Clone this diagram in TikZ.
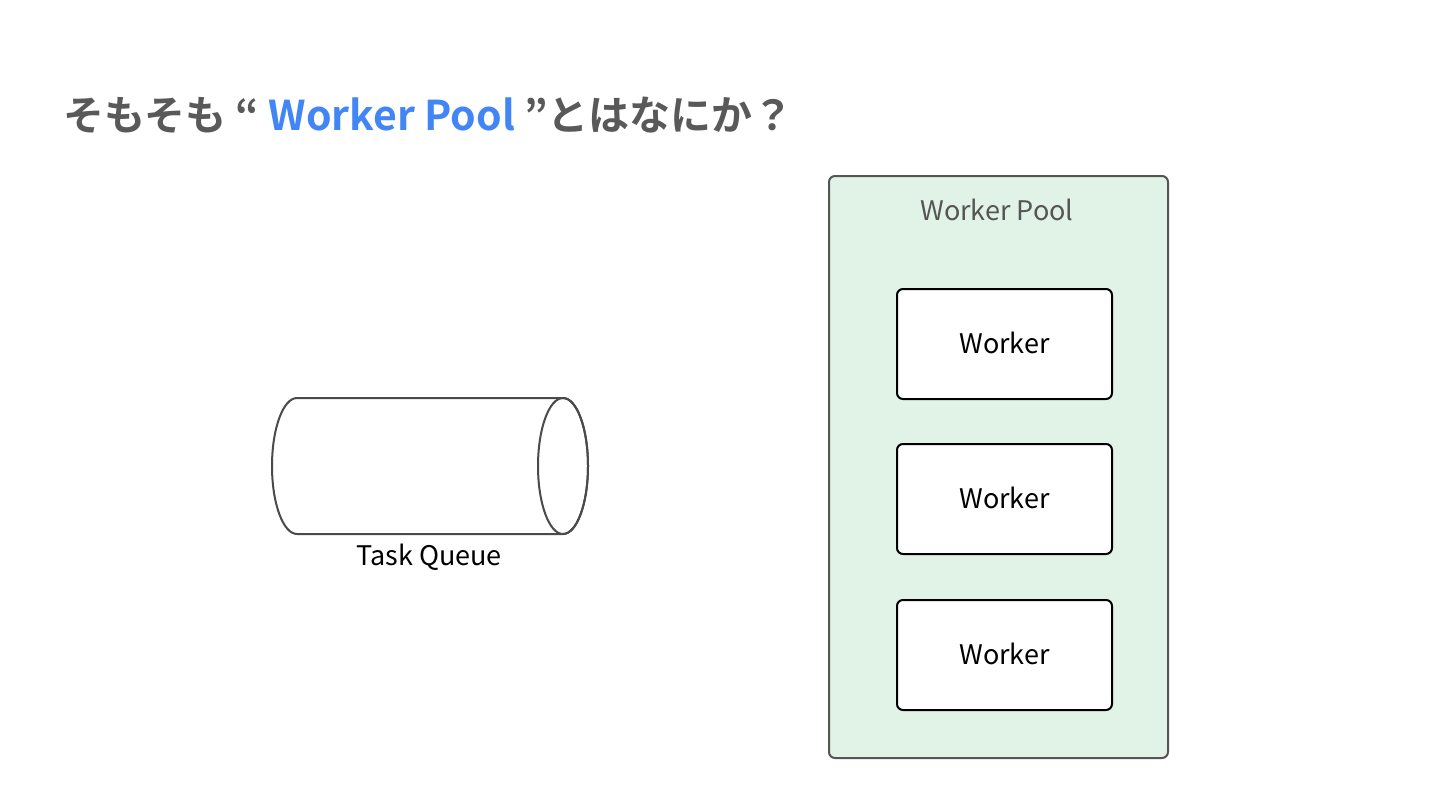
\documentclass[tikz,border=0pt]{standalone}
\usepackage{fontspec}
\setmainfont{Noto Sans CJK JP}
\newfontfamily\jpbold{Noto Sans CJK JP Bold}
\definecolor{titlegray}{HTML}{595959}
\definecolor{titleblue}{HTML}{4285F4}
\definecolor{poolfill}{HTML}{E1F3E6}
\definecolor{poolline}{HTML}{555555}
\definecolor{cylline}{HTML}{4A4A4A}
\tikzset{
  workerbox/.style={draw=black, line width=1pt, rounded corners=3pt, fill=white, minimum width=107.5pt, minimum height=55pt, font=\fontsize{13.5}{16}\selectfont},
  poolbox/.style={draw=poolline, line width=1pt, rounded corners=3pt, fill=poolfill, minimum width=169.5pt, minimum height=291pt},
  lbl/.style={font=\fontsize{13.5}{16}\selectfont, inner sep=0pt},
}
\begin{document}
\begin{tikzpicture}[x=0.5pt,y=-0.5pt]
\useasboundingbox (0,0) rectangle (1440,810);
% title
\node[anchor=base west, inner sep=0pt, text=titlegray, font=\jpbold\fontsize{20.5}{24}\selectfont] (title) at (63,130) {そもそも “ \textcolor{titleblue}{Worker Pool} ”とはなにか？};
% cylinder
\draw[cylline, line width=1pt, fill=white] (297,398) -- (563,398) arc[start angle=-90, end angle=90, x radius=25, y radius=68] -- (297,534) arc[start angle=90, end angle=270, x radius=25, y radius=68] -- cycle;
\draw[cylline, line width=1pt] (563,466) ellipse[x radius=25, y radius=68];
\coordinate (cyl) at (430,466);
\node[lbl, anchor=center] (tq) at (429,557) {Task Queue};
% pool
\node[poolbox] (pool) at (998.5,467) {};
\node[lbl, text=poolline, anchor=center] (poollbl) at (997,210) {Worker Pool};
\node[workerbox] (w1) at (1004.5,344) {\raisebox{1pt}{Worker}};
\node[workerbox] (w2) at (1004.5,499) {\raisebox{1pt}{Worker}};
\node[workerbox] (w3) at (1004.5,655) {\raisebox{1pt}{Worker}};
\end{tikzpicture}
\end{document}
